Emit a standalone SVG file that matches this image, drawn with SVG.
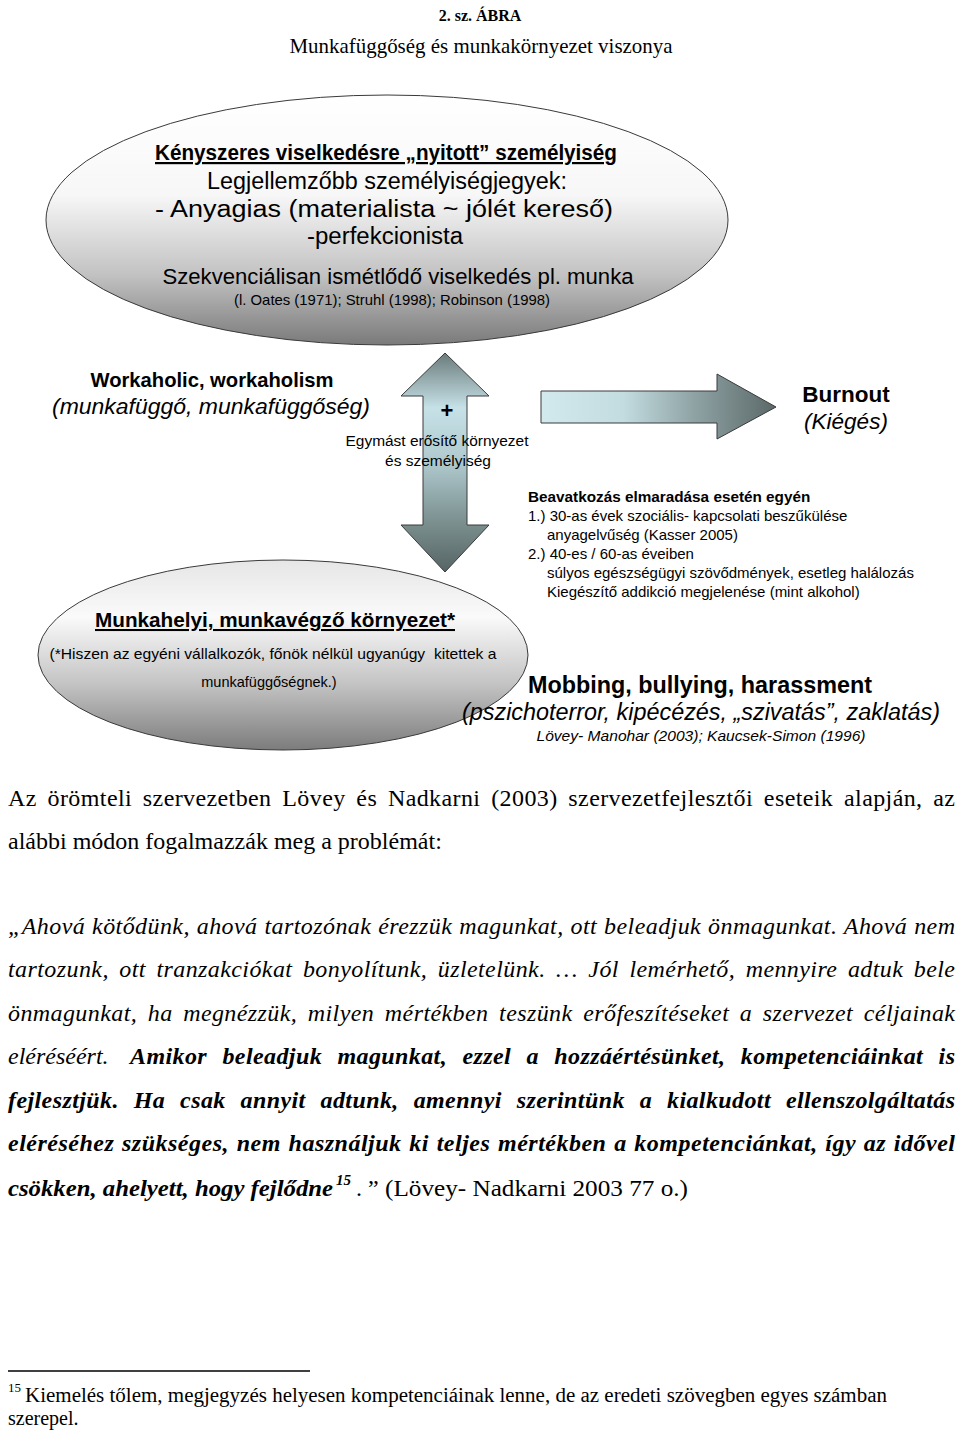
<svg xmlns="http://www.w3.org/2000/svg" width="960" height="1434" viewBox="0 0 960 1434">
<defs>
<linearGradient id="gTop" x1="0" y1="0" x2="0" y2="1">
<stop offset="0" stop-color="#ffffff"/><stop offset="0.4" stop-color="#f7f7f7"/><stop offset="0.72" stop-color="#c2c2c2"/><stop offset="1" stop-color="#7a7a7a"/>
</linearGradient>
<linearGradient id="gBot" x1="0" y1="0" x2="0" y2="1">
<stop offset="0" stop-color="#e6e6e6"/><stop offset="0.3" stop-color="#fafafa"/><stop offset="0.65" stop-color="#c4c4c4"/><stop offset="1" stop-color="#7c7c7c"/>
</linearGradient>
<linearGradient id="gV" gradientUnits="userSpaceOnUse" x1="0" y1="353" x2="0" y2="572">
<stop offset="0" stop-color="#6a7b7b"/><stop offset="0.25" stop-color="#c6e1e7"/><stop offset="0.5" stop-color="#afc9ce"/><stop offset="0.75" stop-color="#7f9494"/><stop offset="1" stop-color="#566464"/>
</linearGradient>
<linearGradient id="gH" gradientUnits="userSpaceOnUse" x1="541" y1="0" x2="776" y2="0">
<stop offset="0" stop-color="#d2e9ed"/><stop offset="0.35" stop-color="#c3dce0"/><stop offset="0.65" stop-color="#8fa3a5"/><stop offset="1" stop-color="#5b6868"/>
</linearGradient>
</defs>
<style>
.sans{font-family:"Liberation Sans",Arial,sans-serif;fill:#000}
.serif{font-family:"Liberation Serif","Times New Roman",serif;fill:#000}
.b{font-weight:bold}
.i{font-style:italic}
.u{text-decoration:underline}
.mid{text-anchor:middle}
.shape{stroke:#3a3a3a;stroke-width:1}
.body{font-size:24px}
</style>
<rect width="960" height="1434" fill="#ffffff"/>

<g id="title">
<text class="serif b mid" x="480" y="21" font-size="16">2. sz. ÁBRA</text>
<text class="serif mid" x="481" y="53" font-size="21" textLength="383" lengthAdjust="spacingAndGlyphs">Munkafüggőség és munkakörnyezet viszonya</text>
</g>

<g id="connectors">
<path class="shape" fill="url(#gV)" d="M445,353 L489,396 L467,396 L467,525 L489,525 L445,572 L401,525 L423,525 L423,396 L401,396 Z"/>
<path class="shape" fill="url(#gH)" d="M541,391 L717,391 L717,374 L776,407 L717,439 L717,423 L541,423 Z"/>
<text class="sans b mid" x="447" y="418" font-size="22">+</text>
<text class="sans mid" x="437" y="446" font-size="15.5" textLength="183" lengthAdjust="spacingAndGlyphs">Egymást erősítő környezet</text>
<text class="sans mid" x="438" y="466" font-size="15.5">és személyiség</text>
</g>

<g id="personality">
<ellipse class="shape" cx="387" cy="220" rx="341" ry="125" fill="url(#gTop)"/>
<text class="sans b u mid" x="386" y="160" font-size="22" textLength="462" lengthAdjust="spacingAndGlyphs">Kényszeres viselkedésre „nyitott” személyiség</text>
<text class="sans mid" x="387" y="189" font-size="23" textLength="360" lengthAdjust="spacingAndGlyphs">Legjellemzőbb személyiségjegyek:</text>
<text class="sans mid" x="384" y="217" font-size="23" textLength="458" lengthAdjust="spacingAndGlyphs">- Anyagias (materialista ~ jólét kereső)</text>
<text class="sans mid" x="385" y="244" font-size="23" textLength="156" lengthAdjust="spacingAndGlyphs">-perfekcionista</text>
<text class="sans mid" x="398" y="284" font-size="22.5" textLength="471" lengthAdjust="spacingAndGlyphs">Szekvenciálisan ismétlődő viselkedés pl. munka</text>
<text class="sans mid" x="392" y="305" font-size="15" textLength="316" lengthAdjust="spacingAndGlyphs">(l. Oates (1971); Struhl (1998); Robinson (1998)</text>
</g>

<g id="workaholic">
<text class="sans b mid" x="212" y="387" font-size="20.2">Workaholic, workaholism</text>
<text class="sans i mid" x="211" y="414" font-size="22.5" textLength="318" lengthAdjust="spacingAndGlyphs">(munkafüggő, munkafüggőség)</text>
</g>

<g id="burnout">
<text class="sans b mid" x="846" y="402" font-size="22.5">Burnout</text>
<text class="sans i mid" x="846" y="429" font-size="22.5">(Kiégés)</text>
</g>

<g id="consequences">
<text class="sans b" x="528" y="502" font-size="15.3">Beavatkozás elmaradása esetén egyén</text>
<text class="sans" x="528" y="521" font-size="15">1.) 30-as évek szociális- kapcsolati beszűkülése</text>
<text class="sans" x="547" y="540" font-size="15">anyagelvűség (Kasser 2005)</text>
<text class="sans" x="528" y="559" font-size="15">2.) 40-es / 60-as éveiben</text>
<text class="sans" x="547" y="578" font-size="15">súlyos egészségügyi szövődmények, esetleg halálozás</text>
<text class="sans" x="547" y="597" font-size="15">Kiegészítő addikció megjelenése (mint alkohol)</text>
</g>

<g id="environment">
<ellipse class="shape" cx="283" cy="655" rx="245" ry="95" fill="url(#gBot)"/>
<text class="sans b u mid" x="275" y="627" font-size="20.5" textLength="360" lengthAdjust="spacingAndGlyphs">Munkahelyi, munkavégző környezet*</text>
<text class="sans mid" x="273" y="659" font-size="14.5" textLength="447" lengthAdjust="spacingAndGlyphs" xml:space="preserve">(*Hiszen az egyéni vállalkozók, főnök nélkül ugyanúgy  kitettek a</text>
<text class="sans mid" x="269" y="687" font-size="14.5">munkafüggőségnek.)</text>
</g>

<g id="mobbing">
<text class="sans b mid" x="700" y="693" font-size="23" textLength="344" lengthAdjust="spacingAndGlyphs">Mobbing, bullying, harassment</text>
<text class="sans i mid" x="701" y="720" font-size="23" textLength="478" lengthAdjust="spacingAndGlyphs">(pszichoterror, kipécézés, „szivatás”, zaklatás)</text>
<text class="sans i mid" x="701" y="741" font-size="15.5" textLength="329" lengthAdjust="spacingAndGlyphs">Lövey- Manohar (2003); Kaucsek-Simon (1996)</text>
</g>

<g id="bodytext">
<text class="serif body" x="8" y="806" word-spacing="4.4" textLength="947" lengthAdjust="spacing">Az örömteli szervezetben Lövey és Nadkarni (2003) szervezetfejlesztői eseteik alapján, az</text>
<text class="serif body" x="8" y="849">alábbi módon fogalmazzák meg a problémát:</text>
<text class="serif body i" x="8" y="934" word-spacing="0.5" textLength="947" lengthAdjust="spacing">„Ahová kötődünk, ahová tartozónak érezzük magunkat, ott beleadjuk önmagunkat. Ahová nem</text>
<text class="serif body i" x="8" y="977" word-spacing="4.1" textLength="947" lengthAdjust="spacing">tartozunk, ott tranzakciókat bonyolítunk, üzletelünk. … Jól lemérhető, mennyire adtuk bele</text>
<text class="serif body i" x="8" y="1021" word-spacing="4.2" textLength="947" lengthAdjust="spacing">önmagunkat, ha megnézzük, milyen mértékben teszünk erőfeszítéseket a szervezet céljainak</text>
<text class="serif body i" x="8" y="1064">eléréséért.</text>
<text class="serif body i b" x="130" y="1064" word-spacing="9" textLength="825" lengthAdjust="spacing">Amikor beleadjuk magunkat, ezzel a hozzáértésünket, kompetenciáinkat is</text>
<text class="serif body i b" x="8" y="1108" word-spacing="8.5" textLength="947" lengthAdjust="spacing">fejlesztjük. Ha csak annyit adtunk, amennyi szerintünk a kialkudott ellenszolgáltatás</text>
<text class="serif body i b" x="8" y="1151" word-spacing="1.2" textLength="947" lengthAdjust="spacing">eléréséhez szükséges, nem használjuk ki teljes mértékben a kompetenciánkat, így az idővel</text>
<text class="serif body i b" x="8" y="1196" textLength="325" lengthAdjust="spacingAndGlyphs">csökken, ahelyett, hogy fejlődne</text>
<text class="serif i b" x="336" y="1185" font-size="15">15</text>
<text class="serif body" x="356" y="1196">. ”</text>
<text class="serif body" x="385" y="1196" textLength="303" lengthAdjust="spacingAndGlyphs">(Lövey- Nadkarni 2003 77 o.)</text>
</g>

<g id="footnote">
<line x1="8" y1="1371" x2="310" y2="1371" stroke="#000" stroke-width="1.5"/>
<text class="serif" x="8" y="1392" font-size="13">15</text>
<text class="serif" x="25" y="1402" font-size="20" textLength="862" lengthAdjust="spacingAndGlyphs">Kiemelés tőlem, megjegyzés helyesen kompetenciáinak lenne, de az eredeti szövegben egyes számban</text>
<text class="serif" x="8" y="1425" font-size="20">szerepel.</text>
</g>
</svg>
